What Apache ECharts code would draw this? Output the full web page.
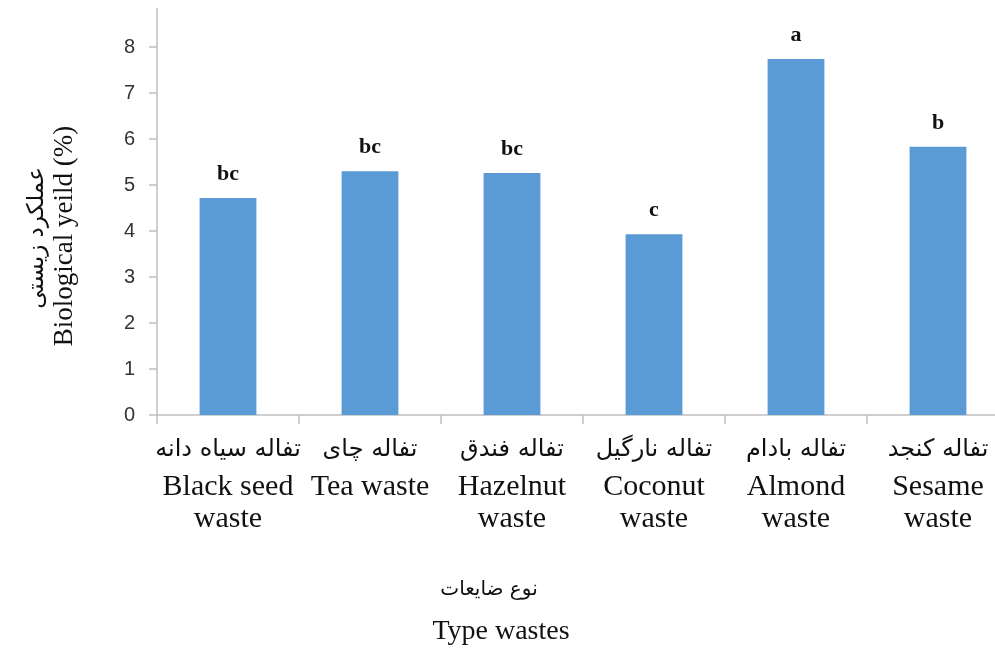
<!DOCTYPE html>
<html><head><meta charset="utf-8">
<script src="https://cdn.jsdelivr.net/npm/echarts@6/dist/echarts.min.js"></script>
<style>html,body{margin:0;padding:0;background:#fff}#c{width:995px;height:648px}</style>
</head><body><div id="c"></div>
<script>
const categoriesFa = ['تفاله سیاه دانه','تفاله چای','تفاله فندق','تفاله نارگیل','تفاله بادام','تفاله کنجد'];
const categoriesEn = ['Black seed\nwaste','Tea waste','Hazelnut\nwaste','Coconut\nwaste','Almond\nwaste','Sesame\nwaste'];
const values = [4.72, 5.30, 5.26, 3.93, 7.74, 5.83];
const letters = ['bc','bc','bc','c','a','b'];
const yTicks = [0,1,2,3,4,5,6,7,8,9];

const cats = categoriesFa.map((f,i)=>i);
const chart = echarts.init(document.getElementById('c'));
chart.setOption({
  animation:false,
  grid:{left:157,width:852,top:1,height:414,containLabel:false,outerBoundsMode:'none'},
  xAxis:{type:'category',data:cats,
    axisLine:{lineStyle:{color:'#bfbfbf',width:1.5}},
    axisTick:{show:true,length:9,lineStyle:{color:'#bfbfbf',width:1.5}},
    axisLabel:{margin:14,interval:0,
      formatter:(v,i)=>{const en=categoriesEn[i].split('\n').map(s=>'{en|'+s+'}').join('\n');return '{fa|'+categoriesFa[i]+'}\n'+en;},
      rich:{fa:{fontFamily:'DejaVu Sans',fontSize:24,color:'#111',lineHeight:42},
            en:{fontFamily:'Liberation Serif',fontSize:30,color:'#111',lineHeight:32}}}},
  yAxis:{type:'value',min:0,max:9,interval:1,
    splitLine:{show:false},
    axisLine:{show:true,lineStyle:{color:'#bfbfbf',width:1.5}},
    axisTick:{show:true,length:8,lineStyle:{color:'#bfbfbf',width:1.5}},
    axisLabel:{fontFamily:'Liberation Sans',fontSize:20,color:'#333',margin:22,
      formatter:v=>yTicks.includes(v)?String(v):''}},
  series:[{type:'bar',data:values,barWidth:'40%',itemStyle:{color:'#5b9bd5'},
    label:{show:true,position:'top',distance:13,formatter:p=>letters[p.dataIndex],
      fontFamily:'Liberation Serif',fontWeight:'bold',fontSize:22,color:'#111'}}],
  graphic:[
    {type:'rect',shape:{x:0,y:0,width:995,height:8},style:{fill:'#fff'},z:100},
    {type:'text',rotation:Math.PI/2,x:37,y:238,
      style:{text:'عملکرد زیستی',font:'23px "DejaVu Sans"',fill:'#111',textAlign:'center',textVerticalAlign:'middle'}},
    {type:'text',rotation:Math.PI/2,x:65,y:236,
      style:{text:'Biological yeild (%)',font:'27px "Liberation Serif"',fill:'#111',textAlign:'center',textVerticalAlign:'middle'}},
    {type:'text',x:489,y:590,
      style:{text:'نوع ضایعات',font:'20px "DejaVu Sans"',fill:'#111',textAlign:'center',textVerticalAlign:'middle'}},
    {type:'text',x:501,y:632,
      style:{text:'Type wastes',font:'28px "Liberation Serif"',fill:'#111',textAlign:'center',textVerticalAlign:'middle'}}
  ]
});
</script></body></html>
